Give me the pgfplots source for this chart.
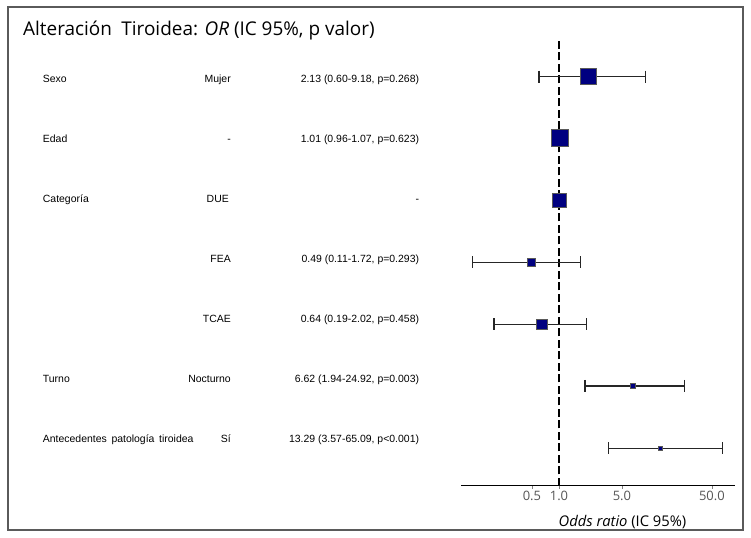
\documentclass[border=0pt]{standalone}
\usepackage{fontspec}
\setmainfont{Liberation Sans}
\newfontfamily\segoe{Open Sans}
\usepackage{pgfplots}
\pgfplotsset{compat=1.18}
\definecolor{boxblue}{HTML}{000080}
\definecolor{framegray}{HTML}{5A5A5A}
\definecolor{ticklab}{HTML}{555555}
\definecolor{cicol}{HTML}{262626}

\newcommand{\lab}{\fontsize{10.5}{12}\selectfont}

\begin{document}
\begin{tikzpicture}[x=1bp,y=1bp]
\path[use as bounding box] (0,0) rectangle (751,538);
\draw[framegray, line width=1.6bp] (8,8) rectangle (743,531);

% title
\node[anchor=base west, inner sep=0pt] at (23,502)
  {\segoe\fontsize{19}{21}\selectfont Alteración\hspace{0.5em}Tiroidea: \textit{OR} (IC 95\%, p valor)};

% left table (y = 538 - pixel row)
\begin{scope}[every node/.style={inner sep=0pt, font=\lab}]
\node[anchor=base west] at (42.7,455.7) {Sexo};
\node[anchor=base west] at (42.7,395.7) {Edad};
\node[anchor=base west] at (42.7,335.7) {Categoría};
\node[anchor=base west] at (42.7,155.7) {Turno};
\node[anchor=base west] at (42.7,95.7) {\makebox[150.6bp][s]{Antecedentes patología tiroidea}};

\node[anchor=base east] at (231,455.7) {Mujer};
\node[anchor=base east] at (231,395.7) {-};
\node[anchor=base east] at (229,335.7) {DUE};
\node[anchor=base east] at (231,275.7) {FEA};
\node[anchor=base east] at (231,215.7) {TCAE};
\node[anchor=base east] at (231,155.7) {Nocturno};
\node[anchor=base east] at (231,95.7) {Sí};

\node[anchor=base east] at (419.3,455.7) {2.13 (0.60-9.18, p=0.268)};
\node[anchor=base east] at (419.3,395.7) {1.01 (0.96-1.07, p=0.623)};
\node[anchor=base east] at (419.3,335.7) {-};
\node[anchor=base east] at (419.3,275.7) {0.49 (0.11-1.72, p=0.293)};
\node[anchor=base east] at (419.3,215.7) {0.64 (0.19-2.02, p=0.458)};
\node[anchor=base east] at (419.3,155.7) {6.62 (1.94-24.92, p=0.003)};
\node[anchor=base east] at (419.3,95.7) {13.29 (3.57-65.09, p<0.001)};
\end{scope}

% x label
\node[inner sep=0pt] at (622.5,16) {\segoe\fontsize{14.8}{16}\selectfont\textit{Odds ratio} (IC 95\%)};

\begin{axis}[
  at={(461bp,52bp)}, anchor=south west,
  scale only axis, width=274bp, height=446bp,
  xmode=log, xmin=0.0815, xmax=90.3, ymin=52, ymax=498,
  axis x line=bottom, axis y line=none,
  x axis line style={-, line width=1bp, black},
  xtick={0.5,1,5,50}, xticklabels={0.5,1.0,5.0,50.0},
  xtick align=outside, major tick length=3bp,
  tick style={gray, line width=0.6bp},
  xticklabel style={font=\segoe\fontsize{13}{14}\selectfont, text=ticklab, inner sep=1.5pt},
  clip=false,
  ci/.style={cicol, line width=1.2bp, mark=|, mark size=6bp, mark options={solid, line width=1.2bp}},
  box/.style={only marks, mark=square*, mark options={fill=boxblue, draw=gray!70!black, line width=0.6bp}},
]
\addplot[black, line width=1.3bp, dash pattern=on 8bp off 3.5bp] coordinates {(1,52) (1,498)};

\addplot[ci] coordinates {(0.60,461.3) (9.18,461.3)};
\addplot[ci] coordinates {(0.96,399.7) (1.07,399.7)};
\addplot[ci] coordinates {(0.11,275.7) (1.72,275.7)};
\addplot[ci] coordinates {(0.19,213.7) (2.02,213.7)};
\addplot[ci] coordinates {(1.94,152) (24.92,152)};
\addplot[ci] coordinates {(3.57,89.7) (65.09,89.7)};

\addplot[box, mark size=8bp] coordinates {(2.13,461.3)};
\addplot[box, mark size=8.5bp] coordinates {(1.01,399.7)};
\addplot[box, mark size=7bp] coordinates {(1,338)};
\addplot[box, mark size=4.25bp] coordinates {(0.49,275.7)};
\addplot[box, mark size=5.25bp] coordinates {(0.64,213.7)};
\addplot[box, mark size=2.5bp] coordinates {(6.62,152)};
\addplot[box, mark size=2bp] coordinates {(13.29,89.7)};
\end{axis}
\end{tikzpicture}
\end{document}
